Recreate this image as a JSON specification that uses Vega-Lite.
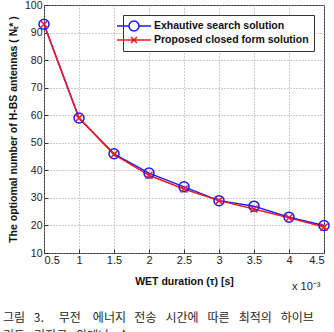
{
  "$schema": "https://vega.github.io/schema/vega-lite/v6.json",
  "autosize": "none",
  "width": 280,
  "height": 248,
  "padding": {"left": 44, "top": 5, "right": 10, "bottom": 79},
  "background": "white",
  "config": {
    "view": {"stroke": "#333333", "strokeWidth": 1},
    "font": "Liberation Sans",
    "axis": {
      "labelFont": "Liberation Sans",
      "labelFontSize": 11,
      "labelColor": "#222222",
      "labelOverlap": false,
      "labelSeparation": 0,
      "titleFont": "Liberation Sans",
      "titleFontSize": 10.5,
      "titleFontWeight": "bold",
      "titleColor": "#111111",
      "domain": false,
      "gridColor": "#9a9a9a",
      "gridDash": [1, 2],
      "gridWidth": 1,
      "gridOpacity": 1,
      "tickColor": "#333333",
      "tickSize": -4,
      "labelPadding": 6
    }
  },
  "title": {
    "text": [
      "그림\u2002\u00a03.\u2003\u2005무전\u2003에너지\u2002\u2009전송\u2002\u2005시간에\u2002\u2005따른\u2002\u2005최적의\u2002\u2005하이브",
      "\u2003\u2003\u2003\u2003\u2005리드\u2002\u2005기지국\u2002\u2005안테나\u2002\u2005수"
    ],
    "orient": "bottom",
    "anchor": "start",
    "frame": "group",
    "dx": -41,
    "offset": 22,
    "font": "Noto Sans CJK KR",
    "fontSize": 12,
    "fontWeight": "normal",
    "color": "#262626",
    "lineHeight": 18,
    "baseline": "top"
  },
  "data": {
    "values": [
      {"tau": 0.5, "n": 93, "series": "Exhautive search solution"},
      {"tau": 1.0, "n": 59, "series": "Exhautive search solution"},
      {"tau": 1.5, "n": 46, "series": "Exhautive search solution"},
      {"tau": 2.0, "n": 39, "series": "Exhautive search solution"},
      {"tau": 2.5, "n": 34, "series": "Exhautive search solution"},
      {"tau": 3.0, "n": 29, "series": "Exhautive search solution"},
      {"tau": 3.5, "n": 27, "series": "Exhautive search solution"},
      {"tau": 4.0, "n": 23, "series": "Exhautive search solution"},
      {"tau": 4.5, "n": 20, "series": "Exhautive search solution"},
      {"tau": 0.5, "n": 93, "series": "Proposed closed form solution"},
      {"tau": 1.0, "n": 59, "series": "Proposed closed form solution"},
      {"tau": 1.5, "n": 45.8, "series": "Proposed closed form solution"},
      {"tau": 2.0, "n": 38.2, "series": "Proposed closed form solution"},
      {"tau": 2.5, "n": 33.2, "series": "Proposed closed form solution"},
      {"tau": 3.0, "n": 29, "series": "Proposed closed form solution"},
      {"tau": 3.5, "n": 26, "series": "Proposed closed form solution"},
      {"tau": 4.0, "n": 22.8, "series": "Proposed closed form solution"},
      {"tau": 4.5, "n": 19.4, "series": "Proposed closed form solution"}
    ]
  },
  "resolve": {"axis": {"x": "independent"}},
  "encoding": {
    "y": {
      "field": "n",
      "type": "quantitative",
      "scale": {"domain": [10, 100], "nice": false, "zero": false},
      "axis": {
        "title": "The optiomal number of H-BS antennas ( Nₜ* )",
        "values": [10, 20, 30, 40, 50, 60, 70, 80, 90, 100],
        "labelOverlap": false,
        "labelSeparation": 0,
        "labelBound": false,
        "labelFontSize": 10.5,
        "titlePadding": 6
      }
    },
    "color": {
      "field": "series",
      "type": "nominal",
      "scale": {
        "domain": ["Exhautive search solution", "Proposed closed form solution"],
        "range": ["#1a1aff", "#f01c1c"]
      }
    }
  },
  "layer": [
    {
      "mark": {"type": "line", "strokeWidth": 1.5},
      "encoding": {
        "x": {
          "field": "tau",
          "type": "quantitative",
          "scale": {"domain": [0.5, 4.5], "nice": false, "zero": false},
          "axis": {
            "title": "WET duration (τ) [s]",
            "values": [0.5, 1, 1.5, 2, 2.5, 3, 3.5, 4, 4.5],
            "format": "~g",
            "labelOverlap": false,
            "labelPadding": 5,
            "titlePadding": 11
          }
        }
      }
    },
    {
      "transform": [{"filter": "datum.series === 'Exhautive search solution'"}],
      "mark": {"type": "point", "shape": "circle", "filled": false, "size": 100, "strokeWidth": 1.5, "opacity": 1},
      "encoding": {
        "x": {
          "field": "tau",
          "type": "quantitative",
          "axis": {
            "orient": "bottom",
            "title": "x 10⁻³",
            "labels": false,
            "ticks": false,
            "grid": false,
            "domain": false,
            "titleFontWeight": "normal",
            "titleFontSize": 11,
            "titleColor": "#222222",
            "titleAnchor": "end",
            "titleAlign": "right",
            "titleX": 276,
            "titleY": 27
          }
        }
      }
    },
    {
      "transform": [{"filter": "datum.series === 'Proposed closed form solution'"}],
      "mark": {"type": "point", "shape": "M-0.7,-0.7L0.7,0.7M-0.7,0.7L0.7,-0.7", "filled": false, "size": 100, "strokeWidth": 1.5, "opacity": 1},
      "encoding": {
        "x": {"field": "tau", "type": "quantitative", "axis": null}
      }
    },
    {
      "transform": [{"filter": "datum.n < 0"}],
      "mark": {"type": "point", "filled": false, "size": 100, "strokeWidth": 1.5},
      "encoding": {
        "x": {"field": "tau", "type": "quantitative", "axis": null},
        "color": {
          "field": "series",
          "type": "nominal",
          "legend": {
            "title": null,
            "orient": "top-right",
            "offset": 10,
            "strokeColor": "#333333",
            "fillColor": "white",
            "padding": 5,
            "rowPadding": 0,
            "symbolSize": 100,
            "symbolStrokeWidth": 1.5,
            "labelOffset": 14,
            "labelFont": "Liberation Sans",
            "labelFontSize": 10.5,
            "labelFontWeight": "bold",
            "labelColor": "#111111"
          }
        },
        "shape": {
          "field": "series",
          "type": "nominal",
          "scale": {
            "domain": ["Exhautive search solution", "Proposed closed form solution"],
            "range": [
              "M-4.8,0M-3.4,0H-1M1,0H3.4M1,0A1,1 0 1,1 -1,0A1,1 0 1,1 1,0",
              "M-4.8,0M-3.4,0H3.4M-0.6,-0.6L0.6,0.6M-0.6,0.6L0.6,-0.6"
            ]
          },
          "legend": {
            "title": null,
            "orient": "top-right",
            "offset": 10,
            "strokeColor": "#333333",
            "fillColor": "white",
            "padding": 5,
            "rowPadding": 0,
            "symbolSize": 100,
            "symbolStrokeWidth": 1.5,
            "labelOffset": 14,
            "labelFont": "Liberation Sans",
            "labelFontSize": 10.5,
            "labelFontWeight": "bold",
            "labelColor": "#111111"
          }
        }
      }
    }
  ]
}
